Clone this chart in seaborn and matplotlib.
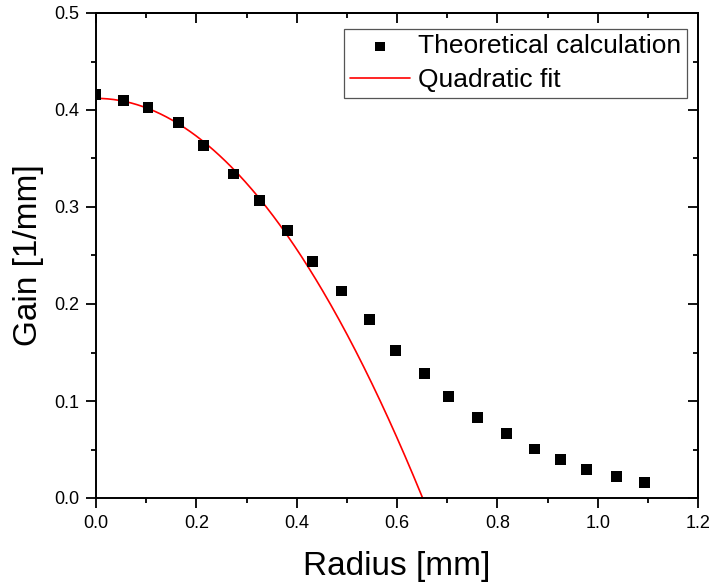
import numpy as np
import pandas as pd
import matplotlib
matplotlib.use("Agg")
import matplotlib.pyplot as plt
import seaborn as sns
from matplotlib.ticker import MultipleLocator

# Data
radius = [0.0, 0.0545, 0.1036, 0.164, 0.215, 0.274, 0.326, 0.381, 0.432,
          0.490, 0.545, 0.597, 0.654, 0.703, 0.761, 0.819, 0.874, 0.925,
          0.977, 1.038, 1.093]
gain = [0.4155, 0.410, 0.4028, 0.387, 0.363, 0.334, 0.307, 0.276, 0.244,
        0.2134, 0.1842, 0.1519, 0.1285, 0.1048, 0.0832, 0.0667, 0.0505, 0.0399,
        0.0289, 0.022, 0.0162]
# Quadratic fit coefficients: y = c0 + c1*x + c2*x^2
fit_c0 = 0.412
fit_c1 = 0.0
fit_c2 = -0.972

sns.set_style("ticks")
plt.rcParams['font.family'] = ['Liberation Sans', 'DejaVu Sans']
plt.rcParams.update({"text.color": "black", "axes.labelcolor": "black",
                     "xtick.color": "black", "ytick.color": "black",
                     "axes.edgecolor": "black"})

fig = plt.figure(figsize=(7.11, 5.85), dpi=100)
ax = fig.add_axes([96/711, 87/585, 602/711, 485/585])

df = pd.DataFrame({"Radius": radius, "Gain": gain})
fit_x = np.linspace(0, 0.7, 300)
fit_y = fit_c0 + fit_c1 * fit_x + fit_c2 * fit_x ** 2
fit_df = pd.DataFrame({"Radius": fit_x, "Gain": fit_y})

sns.lineplot(data=fit_df, x="Radius", y="Gain", ax=ax, color="red", lw=1.2,
             label="Quadratic fit", zorder=2, sort=False)
sns.scatterplot(data=df, x="Radius", y="Gain", ax=ax, marker="s", s=62,
                color="black", edgecolor="none", label="Theoretical calculation",
                zorder=3)

ax.set_xlim(0, 1.2)
ax.set_ylim(0, 0.5)
ax.xaxis.set_major_locator(MultipleLocator(0.2))
ax.xaxis.set_minor_locator(MultipleLocator(0.1))
ax.yaxis.set_major_locator(MultipleLocator(0.1))
ax.yaxis.set_minor_locator(MultipleLocator(0.05))
ax.set_xticklabels([f"{v:.1f}" for v in ax.get_xticks()])
ax.set_yticklabels([f"{v:.1f}" for v in ax.get_yticks()])

for s in ax.spines.values():
    s.set_visible(True)
    s.set_linewidth(1.4)
    s.set_color("black")

ax.tick_params(which="major", direction="out", length=7, width=1.3,
               labelsize=13, colors="black", labelcolor="black", pad=5)
ax.tick_params(which="minor", direction="out", length=3.8, width=1.3)

secx = ax.secondary_xaxis("top")
secx.xaxis.set_major_locator(MultipleLocator(0.2))
secx.xaxis.set_minor_locator(MultipleLocator(0.1))
secx.tick_params(which="major", direction="in", length=7, width=1.3, labeltop=False)
secx.tick_params(which="minor", direction="in", length=3.8, width=1.3)
secx.spines["top"].set_linewidth(1.4)

secy = ax.secondary_yaxis("right")
secy.yaxis.set_major_locator(MultipleLocator(0.1))
secy.yaxis.set_minor_locator(MultipleLocator(0.05))
secy.tick_params(which="major", direction="in", length=7, width=1.3, labelright=False)
secy.tick_params(which="minor", direction="in", length=3.8, width=1.3)
secy.spines["right"].set_linewidth(1.4)

ax.set_xlabel("Radius [mm]", fontsize=24, labelpad=14, color="black")
ax.set_ylabel("Gain [1/mm]", fontsize=24, labelpad=7, color="black")

h, l = ax.get_legend_handles_labels()
order = [l.index("Theoretical calculation"), l.index("Quadratic fit")]
leg = ax.legend([h[i] for i in order], [l[i] for i in order],
                loc="upper right", bbox_to_anchor=(0.982, 0.968),
                borderaxespad=0, fontsize=19, frameon=True, fancybox=False,
                framealpha=1, edgecolor="#555555", handlelength=2.3,
                handletextpad=0.3, labelspacing=0.36, borderpad=0.22,
                markerscale=0.85, labelcolor="black")
leg.get_frame().set_linewidth(0.9)

fig.savefig("out.png", dpi=100)
